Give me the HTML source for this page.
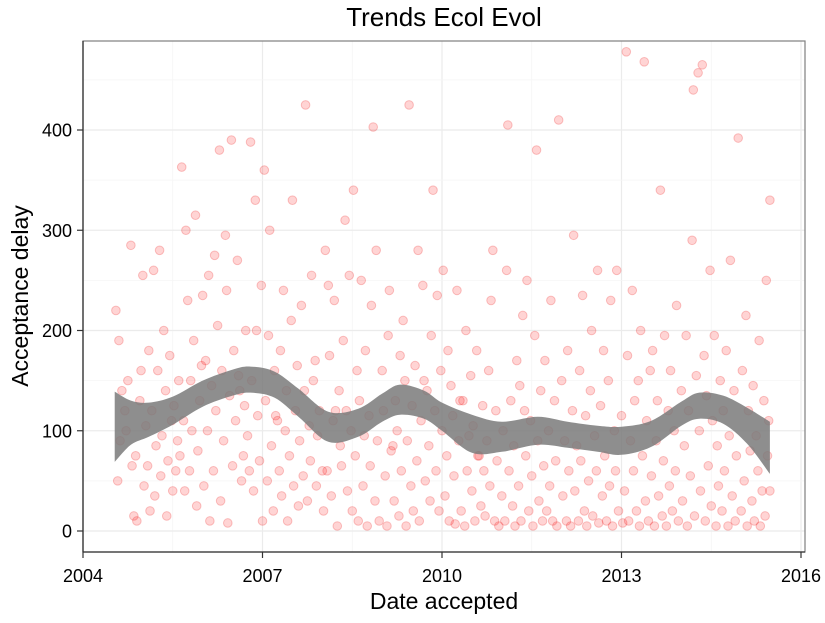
<!DOCTYPE html>
<html><head><meta charset="utf-8"><style>
body{margin:0;background:#fff;font-family:"Liberation Sans",Arial,sans-serif}
svg text{font-family:"Liberation Sans",Arial,sans-serif}
</style></head><body>
<svg id="chart" width="825" height="618" xmlns="http://www.w3.org/2000/svg">
<text x="444" y="26" font-size="26" text-anchor="middle">Trends Ecol Evol</text>
<rect x="83" y="41" width="722" height="511" fill="#fff" stroke="none"/>
<g id="grid"></g>
<g id="points"></g>
<path id="ribbon" fill="#7a7a7a" fill-opacity="0.85" stroke="none"/>
<rect x="83" y="41" width="722" height="511" fill="none" stroke="#7f7f7f" stroke-width="1.2"/>
<g id="axes"></g>
<text x="444" y="609" font-size="23" text-anchor="middle">Date accepted</text>
<text transform="translate(28,296) rotate(-90)" font-size="23" text-anchor="middle">Acceptance delay</text>
</svg>
<script>
const xTicks=[2004,2007,2010,2013,2016];
const yTicks=[0,100,200,300,400];
const smoothYears=[2004.53,2004.8,2005.1,2005.5,2006,2006.5,2006.8,2007.2,2007.6,2008.1,2008.6,2009.0,2009.3,2009.7,2010.0,2010.5,2011.0,2011.6,2012.1,2012.6,2013.0,2013.5,2014.0,2014.3,2014.7,2015.1,2015.48];
const smoothFit=[104,108,111,120,137,148,151,146,128,104,108,123,131,126,114,97,94,100,96,92,90,97,117,125,121,105,83];
const smoothHalf=[35,22,17,14,13,13,13,13,14,15,14,14,15,14,14,19,15,14,13,13,14,13,12,13,14,18,26];
const points=[
[2004.55,220],[2004.58,50],[2004.6,190],[2004.62,90],[2004.65,140],[2004.7,120],[2004.72,100],[2004.75,150],[2004.8,285],[2004.82,65],[2004.85,15],[2004.88,75],[2004.9,10],[2004.95,130],[2004.97,160],
[2005.0,255],[2005.02,45],[2005.05,105],[2005.08,65],[2005.1,180],[2005.12,20],[2005.15,120],[2005.18,260],[2005.2,35],[2005.22,85],[2005.25,160],[2005.28,280],[2005.3,55],[2005.32,95],[2005.35,200],[2005.38,140],[2005.4,15],[2005.42,70],[2005.45,175],[2005.48,110],[2005.5,40],[2005.52,125],[2005.55,60],[2005.58,90],[2005.6,150],[2005.62,75],[2005.65,363],[2005.68,110],[2005.7,40],[2005.72,300],[2005.75,230],[2005.78,60],[2005.8,150],[2005.82,100],[2005.85,190],[2005.88,315],[2005.9,25],[2005.92,80],[2005.95,130],[2005.98,165],
[2006.0,235],[2006.02,45],[2006.05,170],[2006.08,100],[2006.1,255],[2006.12,10],[2006.15,145],[2006.18,60],[2006.2,275],[2006.22,120],[2006.25,205],[2006.28,380],[2006.3,30],[2006.32,160],[2006.35,90],[2006.38,295],[2006.4,240],[2006.42,8],[2006.45,135],[2006.48,390],[2006.5,65],[2006.52,180],[2006.55,110],[2006.58,270],[2006.6,155],[2006.62,140],[2006.65,50],[2006.68,75],[2006.7,125],[2006.72,200],[2006.75,95],[2006.78,60],[2006.8,388],[2006.82,150],[2006.85,40],[2006.88,330],[2006.9,200],[2006.92,115],[2006.95,70],[2006.98,245],
[2007.0,10],[2007.03,360],[2007.05,130],[2007.08,50],[2007.1,195],[2007.12,300],[2007.15,85],[2007.18,20],[2007.2,160],[2007.22,115],[2007.25,110],[2007.28,60],[2007.3,180],[2007.32,35],[2007.35,240],[2007.38,100],[2007.4,140],[2007.42,10],[2007.45,75],[2007.48,210],[2007.5,330],[2007.52,45],[2007.55,120],[2007.58,165],[2007.6,25],[2007.62,90],[2007.65,225],[2007.68,55],[2007.7,140],[2007.72,425],[2007.75,30],[2007.78,105],[2007.8,70],[2007.82,255],[2007.85,150],[2007.88,170],[2007.9,45],[2007.92,95],[2007.95,120],
[2008.0,60],[2008.02,20],[2008.05,280],[2008.08,60],[2008.1,245],[2008.12,175],[2008.15,35],[2008.18,110],[2008.2,230],[2008.22,120],[2008.25,5],[2008.28,140],[2008.3,85],[2008.32,65],[2008.35,190],[2008.38,310],[2008.4,120],[2008.42,40],[2008.45,255],[2008.48,100],[2008.5,20],[2008.52,340],[2008.55,75],[2008.58,160],[2008.6,10],[2008.62,130],[2008.65,250],[2008.68,45],[2008.7,95],[2008.72,180],[2008.75,5],[2008.78,115],[2008.8,65],[2008.82,225],[2008.85,403],[2008.88,30],[2008.9,280],[2008.92,90],[2008.95,10],
[2009.0,160],[2009.02,120],[2009.05,55],[2009.08,5],[2009.1,195],[2009.12,240],[2009.15,80],[2009.18,85],[2009.2,30],[2009.22,130],[2009.25,100],[2009.28,15],[2009.3,175],[2009.32,60],[2009.35,210],[2009.38,150],[2009.4,5],[2009.42,90],[2009.45,425],[2009.48,45],[2009.5,125],[2009.52,20],[2009.55,165],[2009.58,70],[2009.6,280],[2009.62,10],[2009.65,110],[2009.68,245],[2009.7,150],[2009.72,50],[2009.75,140],[2009.78,85],[2009.8,30],[2009.82,195],[2009.85,340],[2009.88,120],[2009.9,60],[2009.92,235],[2009.95,20],[2009.98,160],
[2010.0,100],[2010.02,260],[2010.05,35],[2010.08,75],[2010.1,180],[2010.12,10],[2010.15,145],[2010.18,115],[2010.2,55],[2010.22,7],[2010.25,240],[2010.28,90],[2010.3,130],[2010.32,20],[2010.35,130],[2010.38,5],[2010.4,200],[2010.42,60],[2010.45,95],[2010.48,155],[2010.5,40],[2010.52,105],[2010.55,10],[2010.58,180],[2010.6,75],[2010.62,75],[2010.65,25],[2010.68,125],[2010.7,60],[2010.72,15],[2010.75,90],[2010.78,160],[2010.8,45],[2010.82,230],[2010.85,280],[2010.88,10],[2010.9,120],[2010.92,70],[2010.95,5],
[2011.0,35],[2011.02,100],[2011.05,10],[2011.08,260],[2011.1,405],[2011.12,60],[2011.15,130],[2011.18,25],[2011.2,85],[2011.22,5],[2011.25,170],[2011.28,45],[2011.3,145],[2011.32,10],[2011.35,215],[2011.38,120],[2011.4,75],[2011.42,250],[2011.45,20],[2011.48,110],[2011.5,55],[2011.52,5],[2011.55,195],[2011.58,380],[2011.6,90],[2011.62,30],[2011.65,140],[2011.68,10],[2011.7,65],[2011.72,170],[2011.75,20],[2011.78,100],[2011.8,45],[2011.82,230],[2011.85,10],[2011.88,130],[2011.9,70],[2011.92,5],[2011.95,410],
[2012.0,150],[2012.02,35],[2012.05,90],[2012.08,10],[2012.1,180],[2012.12,60],[2012.15,5],[2012.18,120],[2012.2,295],[2012.22,40],[2012.25,85],[2012.28,10],[2012.3,160],[2012.32,70],[2012.35,235],[2012.38,20],[2012.4,115],[2012.42,5],[2012.45,50],[2012.48,140],[2012.5,200],[2012.52,15],[2012.55,95],[2012.58,60],[2012.6,260],[2012.62,8],[2012.65,125],[2012.68,35],[2012.7,180],[2012.72,75],[2012.75,10],[2012.78,150],[2012.8,45],[2012.82,230],[2012.85,5],[2012.88,100],[2012.9,60],[2012.92,260],[2012.95,20],
[2013.0,115],[2013.02,8],[2013.05,40],[2013.08,478],[2013.1,175],[2013.12,10],[2013.15,90],[2013.18,240],[2013.2,60],[2013.22,130],[2013.25,20],[2013.28,150],[2013.3,5],[2013.32,200],[2013.35,75],[2013.38,468],[2013.4,30],[2013.42,110],[2013.45,10],[2013.48,160],[2013.5,55],[2013.52,180],[2013.55,5],[2013.58,90],[2013.6,130],[2013.62,35],[2013.65,340],[2013.68,15],[2013.7,70],[2013.72,195],[2013.75,5],[2013.78,120],[2013.8,45],[2013.82,160],[2013.85,20],[2013.88,100],[2013.9,60],[2013.92,225],[2013.95,10],
[2014.0,140],[2014.02,30],[2014.05,85],[2014.08,195],[2014.1,5],[2014.12,120],[2014.15,55],[2014.18,290],[2014.2,440],[2014.22,15],[2014.25,155],[2014.28,457],[2014.3,100],[2014.32,40],[2014.35,465],[2014.38,175],[2014.4,10],[2014.42,135],[2014.45,65],[2014.48,260],[2014.5,25],[2014.52,110],[2014.55,195],[2014.58,5],[2014.6,85],[2014.62,45],[2014.65,150],[2014.68,20],[2014.7,120],[2014.72,60],[2014.75,180],[2014.78,5],[2014.8,95],[2014.82,270],[2014.85,35],[2014.88,140],[2014.9,10],[2014.92,75],[2014.95,392],
[2015.0,20],[2015.02,160],[2015.05,50],[2015.08,215],[2015.1,5],[2015.12,120],[2015.15,80],[2015.18,30],[2015.2,145],[2015.22,10],[2015.25,95],[2015.28,60],[2015.3,190],[2015.32,5],[2015.35,40],[2015.38,130],[2015.4,15],[2015.42,250],[2015.44,75],[2015.46,110],[2015.48,330],[2015.48,40]
];
const x=v=>83+(v-2004)*(718/12);
const y=v=>531-v*(401/400);
const NS='http://www.w3.org/2000/svg';
const grid=document.getElementById('grid');
function line(x1,y1,x2,y2,c,w,p,nm){const l=document.createElementNS(NS,'line');l.setAttribute('x1',x1);l.setAttribute('y1',y1);l.setAttribute('x2',x2);l.setAttribute('y2',y2);l.setAttribute('stroke',c);l.setAttribute('stroke-width',w);


p.appendChild(l);}
xTicks.forEach((t,i)=>{line(x(t),41,x(t),552,'#ebebeb',1.2,grid,'x-gridline');if(i<xTicks.length-1)line(x(t+1.5),41,x(t+1.5),552,'#f5f5f5',0.8,grid,'x-minor-gridline');});
yTicks.forEach((t,i)=>{line(83,y(t),805,y(t),'#ebebeb',1.2,grid,'y-gridline');line(83,y(t+50),805,y(t+50),'#f5f5f5',0.8,grid,'y-minor-gridline');});
const pts=document.getElementById('points');
points.forEach(p=>{const c=document.createElementNS(NS,'circle');c.setAttribute('cx',x(p[0]));c.setAttribute('cy',y(p[1]));c.setAttribute('r',4.3);c.setAttribute('fill','rgba(255,0,0,0.17)');c.setAttribute('stroke','rgba(230,0,0,0.22)');c.setAttribute('stroke-width',1);


pts.appendChild(c);});
function smooth(ps){let d='';for(let i=0;i<ps.length-1;i++){const p0=ps[Math.max(i-1,0)],p1=ps[i],p2=ps[i+1],p3=ps[Math.min(i+2,ps.length-1)];
const c1=[p1[0]+(p2[0]-p0[0])/6,p1[1]+(p2[1]-p0[1])/6],c2=[p2[0]-(p3[0]-p1[0])/6,p2[1]-(p3[1]-p1[1])/6];d+=` C${c1} ${c2} ${p2}`;}return d;}
const up=smoothYears.map((yr,i)=>[x(yr),y(smoothFit[i]+smoothHalf[i])]);
const lo=smoothYears.map((yr,i)=>[x(yr),y(smoothFit[i]-smoothHalf[i])]).reverse();
document.getElementById('ribbon').setAttribute('d',`M${up[0]}`+smooth(up)+` L${lo[0]}`+smooth(lo)+'Z');
const axes=document.getElementById('axes');
xTicks.forEach(t=>{line(x(t),552,x(t),558,'#333',1.2,axes,'x-tick');const tx=document.createElementNS(NS,'text');tx.setAttribute('x',x(t));tx.setAttribute('y',582);tx.setAttribute('font-size',18);tx.setAttribute('text-anchor','middle');tx.textContent=t;


axes.appendChild(tx);});
yTicks.forEach(t=>{line(77,y(t),83,y(t),'#333',1.2,axes,'y-tick');const tx=document.createElementNS(NS,'text');tx.setAttribute('x',72);tx.setAttribute('y',y(t)+6.5);tx.setAttribute('font-size',18);tx.setAttribute('text-anchor','end');tx.textContent=t;


axes.appendChild(tx);});
line(83,552,805,552,'#333',1.3,axes,'x-axis-line');
line(83,41,83,552,'#333',1.3,axes,'y-axis-line');
</script>
</body></html>
